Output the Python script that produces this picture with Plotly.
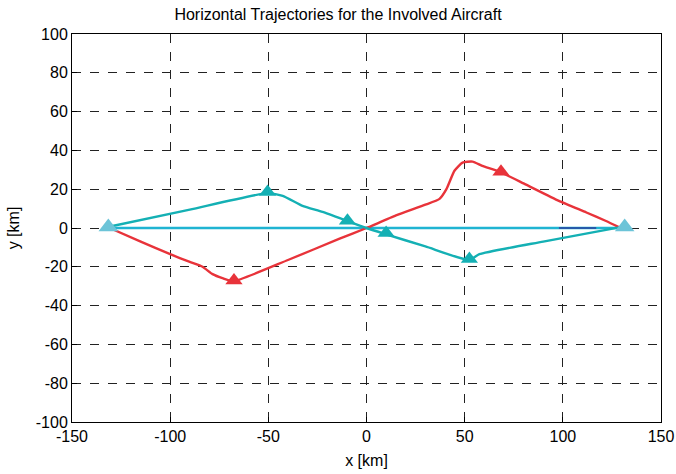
import plotly.graph_objects as go

# Aircraft A (red): west end -> south dogleg -> through origin -> north bump -> east end
red_x = [-130.8, -115, -100, -90, -83.5, -78.4, -73, -68, -40, -13.7, 0, 1.5, 15, 30, 37.2, 40.7, 44.8, 48.9, 54, 59, 67.7, 80, 98, 112, 122, 128.8]
red_y = [0.0, -7, -13.5, -17.5, -20, -23.8, -26, -27.5, -16.5, -5.5, 0, 0.6, 6.5, 12, 15, 20, 29.5, 33.7, 34.2, 32, 29, 23, 14, 8, 3.6, 0.3]

# Aircraft B (teal): west end -> north dogleg -> through origin -> south dogleg -> east end
teal_x = [-131.8, -90, -50.4, -42.7, -32.6, -22.4, -9.7, 0, 9.2, 30, 52.4, 57.5, 90, 128.8]
teal_y = [0.5, 9.5, 18, 16.6, 11.4, 8.3, 3.6, 0, -3, -9.5, -16.5, -13.5, -7, 0.3]

# Aircraft C (light blue): straight east-west track
blue_x = [-131.5, 131.5]
blue_y = [0.0, 0.0]

# Short overlapping dark segment on the straight track
navy_x = [98, 117]
navy_y = [0.0, 0.0]

# Triangle markers
red_tri_x = [-67.5, 68.5]
red_tri_y = [-27.0, 29.0]
teal_tri_x = [-50.4, -9.7, 10.0, 52.4]
teal_tri_y = [18.5, 3.8, -2.6, -16.0]
blue_tri_x = [-131.5, 131.5]
blue_tri_y = [0.5, 0.5]

# Axis ticks and their labels (plain hyphen for negatives)
x_ticks = list(range(-150, 151, 50))
y_ticks = list(range(-100, 101, 20))
x_labels = [str(v) for v in x_ticks]
y_labels = [str(v) for v in y_ticks]

RED = "#e8333a"
TEAL = "#14b0b4"
LBLUE = "#1fb4d2"
TRI_BLUE = "#6cc4d8"
FONT = "Liberation Sans, Arial, sans-serif"

fig = go.Figure()
fig.add_trace(go.Scatter(x=blue_x, y=blue_y, mode="lines",
                         line=dict(color=LBLUE, width=2.5)))
fig.add_trace(go.Scatter(x=navy_x, y=navy_y, mode="lines",
                         line=dict(color="#2a3c9c", width=1.5)))
fig.add_trace(go.Scatter(x=red_x, y=red_y, mode="lines",
                         line=dict(color=RED, width=2.4, shape="spline", smoothing=0.5)))
fig.add_trace(go.Scatter(x=teal_x, y=teal_y, mode="lines",
                         line=dict(color=TEAL, width=2.4, shape="spline", smoothing=0.5)))
fig.add_trace(go.Scatter(x=red_tri_x, y=red_tri_y, mode="markers",
                         marker=dict(symbol="triangle-up", size=15, color=RED)))
fig.add_trace(go.Scatter(x=teal_tri_x, y=teal_tri_y, mode="markers",
                         marker=dict(symbol="triangle-up", size=15, color=TEAL)))
fig.add_trace(go.Scatter(x=blue_tri_x, y=blue_tri_y, mode="markers",
                         marker=dict(symbol="triangle-up", size=17, color=TRI_BLUE)))

axis_common = dict(
    showgrid=True, gridcolor="#222222", griddash="dash", gridwidth=1,
    showline=True, linecolor="#000000", linewidth=1, mirror=True,
    ticks="inside", ticklen=5, tickcolor="#000000",
    zeroline=False, automargin=False,
    tickfont=dict(family=FONT, size=16, color="#000000"),
)

fig.update_layout(
    width=676, height=474,
    margin=dict(l=72, r=15, t=34, b=52),
    paper_bgcolor="white", plot_bgcolor="white",
    showlegend=False,
    title=dict(text="Horizontal Trajectories for the Involved Aircraft",
               x=0.5, xanchor="center", y=0.97, yanchor="middle",
               font=dict(family=FONT, size=16, color="#000000")),
    xaxis=dict(range=[-150, 150], tickvals=x_ticks, ticktext=x_labels,
               title=dict(text="x [km]", standoff=10,
                          font=dict(family=FONT, size=16, color="#000000")),
               **axis_common),
    yaxis=dict(range=[-100, 100], tickvals=y_ticks, ticktext=y_labels,
               title=dict(text="y [km]", standoff=12,
                          font=dict(family=FONT, size=16, color="#000000")),
               **axis_common),
)

fig.write_html("out.html")
